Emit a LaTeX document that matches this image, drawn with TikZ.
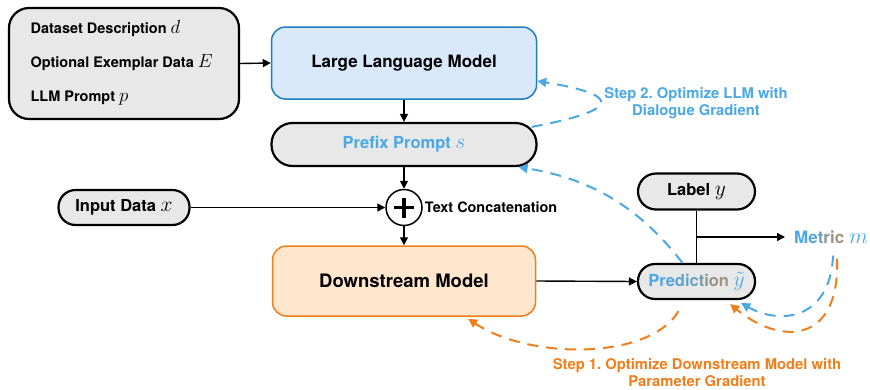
\RequirePackage{fix-cm}
\documentclass[tikz,border=0pt]{standalone}
\usepackage{fontspec}
\usepackage{graphicx}
\setmainfont{TeX Gyre Heros}
\usetikzlibrary{arrows.meta}
\definecolor{llmfill}{RGB}{218,232,252}
\definecolor{llmdraw}{RGB}{30,125,195}
\definecolor{grayfill}{RGB}{232,232,232}
\definecolor{dsfill}{RGB}{255,230,204}
\definecolor{dsdraw}{RGB}{240,126,26}
\definecolor{bluetxt}{RGB}{74,168,230}
\definecolor{orangetxt}{RGB}{240,126,26}
\newcommand{\gradl}[2]{\textcolor{bluetxt!#1!orangetxt}{#2}}
\newcommand{\mv}[1]{\scalebox{1.3}{$#1$}}
\frenchspacing
\begin{document}
\begin{tikzpicture}[x=1pt,y=-1pt,
  every node/.style={font=\bfseries},
  blk/.style={draw=black, line width=2.2pt, fill=grayfill},
  arr/.style={line width=1.4pt, -{Triangle[length=8pt,width=8pt]}},
  bdash/.style={draw=bluetxt, line width=2pt, dash pattern=on 11pt off 8pt, -{Triangle[length=9pt,width=9pt]}},
  odash/.style={draw=orangetxt, line width=2pt, dash pattern=on 11pt off 8pt, -{Triangle[length=9pt,width=9pt]}},
  big/.style={font=\bfseries\fontsize{17}{20}\selectfont},
  mid/.style={font=\bfseries\fontsize{16.5}{19}\selectfont},
  sml/.style={font=\bfseries\fontsize{14.5}{17}\selectfont},
  steptxt/.style={align=center, font=\bfseries\fontsize{14.8}{17}\selectfont}]
\useasboundingbox (0,0) rectangle (870,389);

% context box
\node[blk, rounded corners=20pt, minimum width=230pt, minimum height=111pt] (ctx) at (124,63.5) {};
\node[sml, anchor=west] (t1) at (27,29) {Dataset Description \mv{d}};
\node[sml, anchor=west] (t2) at (27,63) {Optional Exemplar Data \mv{E}};
\node[sml, anchor=west] (t3) at (27,98) {LLM Prompt \mv{p}};

% LLM
\node[draw=llmdraw, line width=1.5pt, fill=llmfill, rounded corners=14pt, minimum width=265pt, minimum height=72pt, big] (llm) at (404,63) {Large Language Model};
\draw[arr] (ctx.east) -- (llm.west);

% prefix prompt
\node[blk, rounded corners=21pt, minimum width=265pt, minimum height=43pt, text=bluetxt, mid] (pre) at (404,144.5) {Prefix Prompt \mv{s}};
\draw[arr] (llm.south) -- (pre.north);

% concatenation
\node[circle, draw, line width=1.5pt, minimum size=36pt, inner sep=0pt, fill=white] (plus) at (404,207.5) {};
\draw[line width=3.5pt] ([xshift=-10pt]plus.center) -- ([xshift=10pt]plus.center);
\draw[line width=3.5pt] ([yshift=-10pt]plus.center) -- ([yshift=10pt]plus.center);
\node[anchor=west, font=\bfseries\fontsize{14.4}{16}\selectfont, inner sep=2pt] (tc) at (plus.east) {Text Concatenation};
\draw[arr] (pre.south) -- (plus.north);

% input
\node[blk, rounded corners=17pt, minimum width=131pt, minimum height=35pt, mid] (inp) at (124,207.5) {Input Data \mv{x}};
\draw[arr] (inp.east) -- (plus.west);

% downstream
\node[draw=dsdraw, line width=1.5pt, fill=dsfill, rounded corners=14pt, minimum width=263pt, minimum height=70pt, font=\bfseries\fontsize{18.5}{21}\selectfont] (ds) at (404,281) {Downstream Model};
\draw[arr] (plus.south) -- (ds.north);

% prediction and label
\node[blk, rounded corners=17pt, minimum width=117pt, minimum height=35pt, inner xsep=1pt, font=\bfseries\fontsize{16.5}{19}\selectfont] (pred) at (696.5,281.5)
  {\gradl{100}{P}\gradl{100}{r}\gradl{95}{e}\gradl{90}{d}\gradl{85}{i}\gradl{80}{c}\gradl{70}{t}\gradl{60}{i}\gradl{55}{o}\gradl{50}{n} \textcolor{bluetxt}{\mv{\tilde{y}}}};
\node[blk, rounded corners=18pt, minimum width=117pt, minimum height=36pt, mid] (lab) at (696.5,191.5) {Label \mv{y}};
\draw[arr] (ds.east) -- (pred.west);
\draw[line width=1.4pt] (lab.south) -- (pred.north);
\coordinate (br) at (696.5,237);
\node[anchor=west, inner sep=0pt, font=\bfseries\fontsize{17}{20}\selectfont] (met) at (794,237)
  {\gradl{100}{M}\gradl{95}{e}\gradl{80}{t}\gradl{60}{r}\gradl{50}{i}\gradl{45}{c} \textcolor{bluetxt}{\mv{m}}};
\draw[arr] (br) -- ([xshift=-9pt]met.west);

% step texts
\node[steptxt, text=bluetxt] (s2) at (696,103) {Step 2. Optimize LLM with\\Dialogue Gradient};
\node[steptxt, text=orangetxt] (s1) at (697,373) {Step 1. Optimize Downstream Model with\\Parameter Gradient};

% dashed feedback
\draw[bdash] ([xshift=-6pt,yshift=-5pt]pre.north east) .. controls (622,110) and (622,95) .. ([yshift=-18pt]llm.east);
\draw[bdash] ([xshift=-14pt]pred.north) .. controls (645,215) and (600,180) .. ([xshift=-19pt]pre.south east);
\draw[bdash] ([xshift=2pt,yshift=-12pt]met.south) .. controls (830,320) and (780,325) .. ([xshift=-15pt,yshift=-3pt]pred.south east);
\draw[odash] ([xshift=6pt,yshift=-15pt]met.south) .. controls (840,345) and (780,345) .. ([xshift=-26pt,yshift=-4pt]pred.south east);
\draw[odash] ([xshift=-18pt,yshift=-11pt]pred.south) .. controls (650,360) and (530,360) .. ([xshift=-68pt,yshift=-2pt]ds.south east);
\end{tikzpicture}
\end{document}
